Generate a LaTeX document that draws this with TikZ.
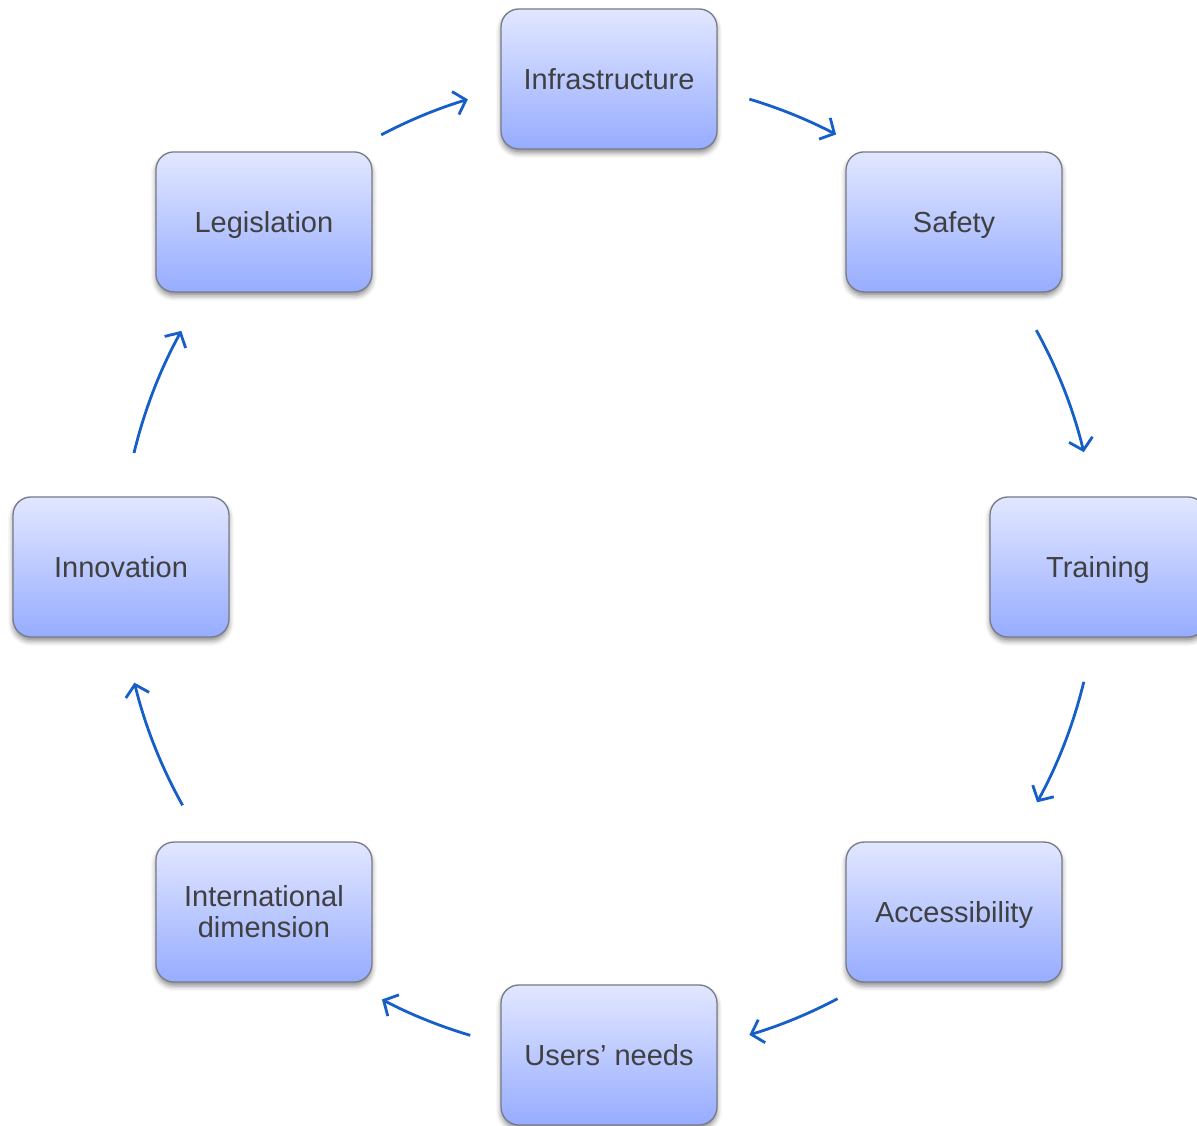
\documentclass[tikz,border=0pt]{standalone}
\usepackage{fontspec}
\setmainfont{Liberation Sans}
\usetikzlibrary{arrows.meta,shadows.blur}
\definecolor{boxtop}{RGB}{226,231,255}
\definecolor{boxbot}{RGB}{150,172,255}
\definecolor{boxline}{RGB}{120,122,135}
\definecolor{txt}{RGB}{64,64,64}
\definecolor{arrc}{RGB}{22,94,200}
\tikzset{
  box/.style={rectangle, rounded corners=18pt, minimum width=216pt, minimum height=140pt,
    draw=boxline, line width=1.3pt, top color=boxtop, bottom color=boxbot, text=txt,
    font=\fontsize{29}{31}\selectfont, align=center, text height=21pt, text depth=0pt,
    blur shadow={shadow xshift=0pt, shadow yshift=-4pt, shadow blur radius=5pt, shadow opacity=45}},
  twoline/.style={text height={}, text depth={}},
  arr/.style={draw=arrc, line width=2.8pt, -{Straight Barb[length=11pt,width=24pt,line width=2.8pt]}}
}
\begin{document}
\begin{tikzpicture}[x=1pt,y=1pt]
\useasboundingbox (0,0) rectangle (1197,1126);
\clip (0,0) rectangle (1197,1126);
\coordinate (C) at (609,559);
\node[box] (infra) at ([shift={(90:488)}]C) {Infrastructure};
\node[box] (safety) at ([shift={(45:488)}]C) {Safety};
\node[box] (train) at ([shift={(0:489)}]C) {Training};
\node[box] (access) at ([shift={(-45:488)}]C) {Accessibility};
\node[box] (users) at ([shift={(-90:488)}]C) {Users’ needs};
\node[box, twoline] (intl) at ([shift={(-135:488)}]C) {International\\dimension};
\node[box] (innov) at ([shift={(180:488)}]C) {Innovation};
\node[box] (legis) at ([shift={(135:488)}]C) {Legislation};
\coordinate (a1) at ([shift={(73.3:488.5)}]C);
\coordinate (a2) at ([shift={(29:488.5)}]C);
\coordinate (a3) at ([shift={(-13.6:488.5)}]C);
\coordinate (a4) at ([shift={(-62.1:488.5)}]C);
\coordinate (a5) at ([shift={(-106.5:488.5)}]C);
\coordinate (a6) at ([shift={(209.2:488.5)}]C);
\coordinate (a7) at ([shift={(166.5:488.5)}]C);
\coordinate (a8) at ([shift={(117.8:488.5)}]C);
\draw[arr] (a1) arc[start angle=73.3, end angle=62.3, radius=488.5];
\draw[arr] (a2) arc[start angle=29, end angle=13.6, radius=488.5];
\draw[arr] (a3) arc[start angle=-13.6, end angle=-28.8, radius=488.5];
\draw[arr] (a4) arc[start angle=-62.1, end angle=-73.3, radius=488.5];
\draw[arr] (a5) arc[start angle=-106.5, end angle=-117.7, radius=488.5];
\draw[arr] (a6) arc[start angle=209.2, end angle=193.7, radius=488.5];
\draw[arr] (a7) arc[start angle=166.5, end angle=151.1, radius=488.5];
\draw[arr] (a8) arc[start angle=117.8, end angle=106.8, radius=488.5];
\end{tikzpicture}
\end{document}
